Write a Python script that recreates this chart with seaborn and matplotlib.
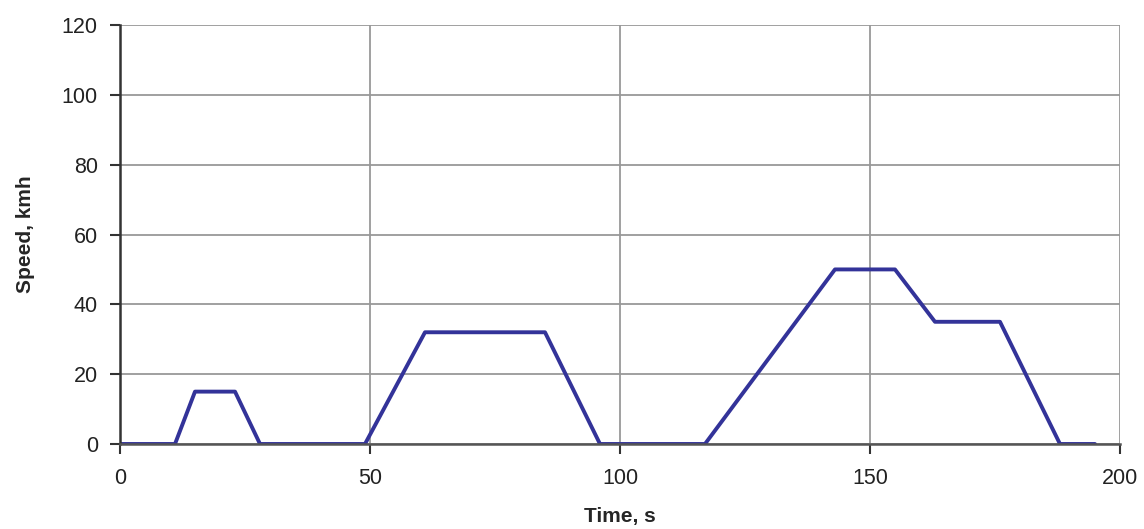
import matplotlib
matplotlib.use("Agg")
import matplotlib.pyplot as plt
import seaborn as sns
import pandas as pd

# ECE-15 urban cycle, break points
time_s = [0, 11, 15, 23, 28, 49, 61, 85, 96, 117, 143, 155, 163, 176, 188, 195]
speed_kmh = [0, 0, 15, 15, 0, 0, 32, 32, 0, 0, 50, 50, 35, 35, 0, 0]

x_ticks = [0, 50, 100, 150, 200]
y_ticks = [0, 20, 40, 60, 80, 100, 120]

data = pd.DataFrame({"Time": time_s, "Speed": speed_kmh})

sns.set_style("white")
plt.rcParams["font.family"] = ["Liberation Sans", "DejaVu Sans"]

fig = plt.figure(figsize=(11.44, 5.29), dpi=100)
ax = fig.add_axes([0.1049, 0.1607, 0.8741, 0.792])

sns.lineplot(x="Time", y="Speed", data=data, color="#333399", linewidth=2.8, ax=ax, zorder=3)

ax.set_xlim(0, 200)
ax.set_ylim(0, 120)
ax.set_xticks(x_ticks)
ax.set_yticks(y_ticks)
ax.grid(True, color="#999999", linewidth=1.3)

for side in ["top", "right"]:
    ax.spines[side].set_visible(False)
ax.spines["left"].set_color("#333333")
ax.spines["left"].set_linewidth(1.8)
ax.spines["bottom"].set_color("#555555")
ax.spines["bottom"].set_linewidth(1.8)
ax.spines["left"].set_zorder(4)
ax.spines["bottom"].set_zorder(4)

ax.tick_params(axis="both", direction="out", length=7, width=1.5, colors="#333333",
               labelsize=15.5, labelcolor="#222222", bottom=True, left=True)
ax.tick_params(axis="x", pad=10)
ax.tick_params(axis="y", pad=9)

ax.set_xlabel("Time, s", fontsize=15, fontweight="bold", labelpad=13)
ax.set_ylabel("Speed, kmh", fontsize=15, fontweight="bold", labelpad=19)

fig.savefig("out.png", dpi=100)
